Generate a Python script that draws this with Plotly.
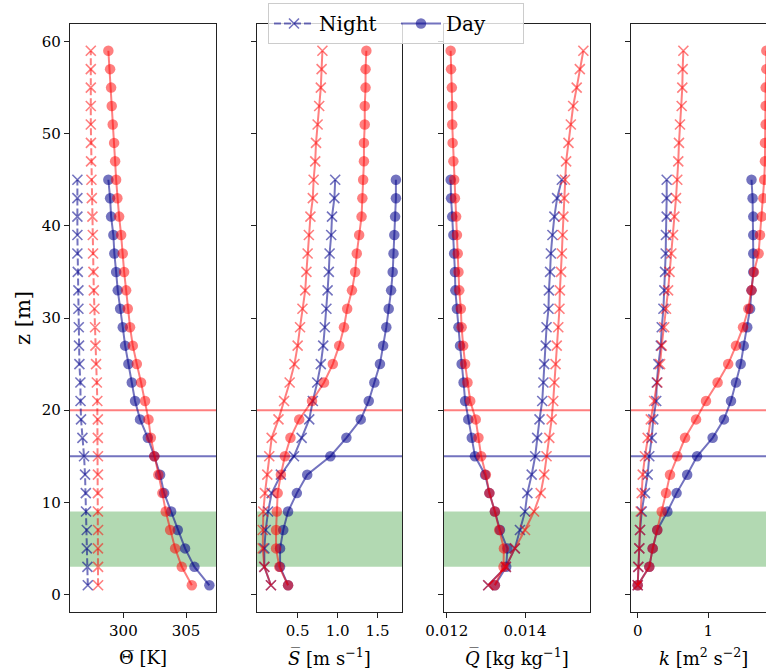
import plotly.graph_objects as go

# heights
z_red = [1, 3, 5, 7, 9, 11, 13, 15, 17, 19, 21, 23, 25, 27, 29, 31, 33, 35, 37, 39,
         41, 43, 45, 47, 49, 51, 53, 55, 57, 59]
z_blue = [1, 3, 5, 7, 9, 11, 13, 15, 17, 19, 21, 23, 25, 27, 29, 31, 33, 35, 37, 39,
          41, 43, 45]

# Theta [K]
theta_night_red = [297.98, 297.98, 297.97, 297.98, 297.97, 297.97, 297.97, 297.97, 297.96, 297.96,
                   297.92, 297.88, 297.82, 297.77, 297.74, 297.69, 297.64, 297.61, 297.58, 297.56,
                   297.53, 297.48, 297.45, 297.42, 297.41, 297.40, 297.40, 297.40, 297.40, 297.40]
theta_night_blue = [297.16, 297.13, 297.08, 297.08, 297.02, 297.00, 296.94, 296.86, 296.73, 296.62,
                    296.58, 296.57, 296.49, 296.46, 296.44, 296.41, 296.41, 296.36, 296.33, 296.33,
                    296.33, 296.33, 296.33]
theta_day_red = [305.46, 304.66, 304.13, 303.73, 303.38, 303.11, 302.79, 302.47, 302.19, 302.00,
                 301.73, 301.41, 301.07, 300.75, 300.53, 300.35, 300.22, 300.06, 299.95, 299.82,
                 299.66, 299.52, 299.42, 299.34, 299.26, 299.15, 299.07, 299.02, 298.94, 298.80]
theta_day_blue = [306.86, 305.67, 304.92, 304.34, 303.81, 303.25, 302.93, 302.47, 301.95, 301.33,
                  300.93, 300.67, 300.40, 300.14, 299.95, 299.74, 299.55, 299.42, 299.28, 299.20,
                  299.02, 298.94, 298.80]

# S [m/s]
s_night_red = [0.166, 0.083, 0.063, 0.063, 0.07, 0.091, 0.12, 0.145, 0.175, 0.26,
               0.33, 0.40, 0.46, 0.50, 0.53, 0.56, 0.595, 0.61, 0.625, 0.64,
               0.66, 0.69, 0.70, 0.72, 0.73, 0.75, 0.77, 0.79, 0.80, 0.81]
s_night_blue = [0.166, 0.083, 0.083, 0.10, 0.13, 0.175, 0.29, 0.454, 0.55, 0.645,
                0.69, 0.745, 0.79, 0.82, 0.84, 0.86, 0.875, 0.89, 0.90, 0.92,
                0.93, 0.96, 0.97]
s_day_red = [0.38, 0.27, 0.23, 0.23, 0.24, 0.25, 0.29, 0.34, 0.41, 0.52,
             0.68, 0.83, 0.94, 1.02, 1.08, 1.12, 1.18, 1.22, 1.24, 1.27,
             1.30, 1.31, 1.32, 1.33, 1.33, 1.34, 1.34, 1.35, 1.35, 1.36]
s_day_blue = [0.38, 0.28, 0.28, 0.32, 0.38, 0.49, 0.62, 0.91, 1.11, 1.29,
              1.39, 1.46, 1.53, 1.57, 1.61, 1.64, 1.67, 1.69, 1.70, 1.71,
              1.72, 1.73, 1.73]

# Q [kg/kg]
q_night_red = [0.01306, 0.01351, 0.01374, 0.01400, 0.01423, 0.01440, 0.01449, 0.01455, 0.01462, 0.01468,
               0.01472, 0.01475, 0.01478, 0.01481, 0.01485, 0.01488, 0.01489, 0.01492, 0.01494, 0.01496,
               0.01498, 0.01500, 0.01502, 0.01505, 0.01511, 0.01517, 0.01523, 0.01532, 0.01540, 0.01549]
q_night_blue = [0.01306, 0.01351, 0.01374, 0.01387, 0.01400, 0.01406, 0.01417, 0.01426, 0.01431, 0.01437,
                0.01444, 0.01447, 0.01449, 0.01453, 0.01455, 0.01460, 0.01461, 0.01464, 0.01466, 0.01470,
                0.01475, 0.01482, 0.01494]
q_day_red = [0.01323, 0.01345, 0.01346, 0.01334, 0.01323, 0.01309, 0.01300, 0.01288, 0.01281, 0.01274,
             0.01260, 0.01253, 0.01247, 0.01242, 0.01238, 0.01236, 0.01232, 0.01230, 0.01228, 0.01226,
             0.01224, 0.01221, 0.01219, 0.01217, 0.01215, 0.01214, 0.01214, 0.01213, 0.01211, 0.01210]
q_day_blue = [0.01323, 0.01352, 0.01355, 0.01336, 0.01323, 0.01309, 0.01298, 0.01272, 0.01264, 0.01255,
              0.01247, 0.01243, 0.01238, 0.01234, 0.01230, 0.01226, 0.01222, 0.01221, 0.01219, 0.01217,
              0.01214, 0.01211, 0.01210]

# k [m2/s2]
k_night_red = [0.0, 0.009, 0.023, 0.033, 0.042, 0.057, 0.071, 0.103, 0.141, 0.185,
               0.232, 0.279, 0.317, 0.34, 0.375, 0.40, 0.43, 0.45, 0.476, 0.50,
               0.519, 0.542, 0.560, 0.574, 0.584, 0.598, 0.622, 0.631, 0.636, 0.646]
k_night_blue = [0.0, 0.009, 0.023, 0.033, 0.057, 0.103, 0.141, 0.164, 0.198, 0.22,
                0.262, 0.27, 0.293, 0.327, 0.34, 0.364, 0.377, 0.387, 0.396, 0.40,
                0.41, 0.41, 0.41]
k_day_red = [0.0, 0.164, 0.212, 0.277, 0.34, 0.40, 0.457, 0.56, 0.67, 0.825,
             0.966, 1.13, 1.28, 1.39, 1.49, 1.565, 1.61, 1.645, 1.71, 1.73,
             1.755, 1.778, 1.79, 1.80, 1.80, 1.81, 1.81, 1.81, 1.82, 1.82]
k_day_blue = [0.0, 0.164, 0.212, 0.277, 0.42, 0.55, 0.70, 0.84, 1.06, 1.22,
              1.32, 1.39, 1.457, 1.50, 1.55, 1.59, 1.61, 1.635, 1.635, 1.635,
              1.635, 1.625, 1.61]

x_titles = ["\u0398\u0305 [K]",
            "<i>S\u0305</i> [m s<sup>\u22121</sup>]",
            "<i>Q\u0305</i> [kg kg<sup>\u22121</sup>]",
            "<i>k</i> [m<sup>2</sup> s<sup>\u22122</sup>]"]
x_tickvals = [[300, 305], [0.5, 1.0, 1.5], [0.012, 0.014], [0, 1]]
x_ticktext = [["300", "305"], ["0.5", "1.0", "1.5"], ["0.012", "0.014"], ["0", "1"]]
y_ticks = [0, 10, 20, 30, 40, 50, 60]
z_red_line = 20
z_blue_line = 15
band = [3, 9]

RED = "rgba(255,0,0,0.5)"
BLUE = "rgba(0,0,139,0.55)"
FONT = "DejaVu Serif"
TICK = 15

W, H = 766, 672
panels_px = [(70, 216), (256.7, 402.3), (444, 590), (630.7, 766)]
x_ranges = [[295.74, 307.39], [-0.0125, 1.81], [0.01193, 0.01566], [-0.099, 1.815]]
y_top, y_bot = 24, 612
y_dom = [1 - y_bot / H, 1 - y_top / H]

panels = [
    (theta_night_red, theta_night_blue, theta_day_red, theta_day_blue),
    (s_night_red, s_night_blue, s_day_red, s_day_blue),
    (q_night_red, q_night_blue, q_day_red, q_day_blue),
    (k_night_red, k_night_blue, k_day_red, k_day_blue),
]

fig = go.Figure()
layout = dict(
    width=W, height=H,
    margin=dict(l=0, r=0, t=0, b=0, autoexpand=False),
    paper_bgcolor="white", plot_bgcolor="white",
    font=dict(family=FONT, size=TICK, color="black"),
    showlegend=True,
    legend=dict(orientation="h", x=396 / W, xanchor="center", y=1 - 3 / H, yanchor="top",
                bgcolor="rgba(255,255,255,0.8)", bordercolor="#cccccc", borderwidth=1,
                font=dict(family=FONT, size=20), itemwidth=40,
                entrywidth=72, entrywidthmode="pixels",
                traceorder="normal"),
)
shapes = []
annotations = []


def cross(color):
    return dict(symbol="x-thin", size=10, color=color, line=dict(width=1.6, color=color))


def dot(color):
    return dict(symbol="circle", size=10.5, color=color, line=dict(width=0))


for i, (nr, nb, dr, db) in enumerate(panels):
    idx = "" if i == 0 else str(i + 1)
    xa, ya = "x" + idx, "y" + idx
    dash = "7px,3px" if i == 0 else "solid"
    # blue first, red drawn on top
    fig.add_trace(go.Scatter(x=nb, y=z_blue, xaxis=xa, yaxis=ya, mode="lines+markers",
                             line=dict(color=BLUE, width=2, dash=dash), marker=cross(BLUE),
                             name="Night", showlegend=(i == 0), legendrank=1, cliponaxis=True))
    fig.add_trace(go.Scatter(x=db, y=z_blue, xaxis=xa, yaxis=ya, mode="lines+markers",
                             line=dict(color=BLUE, width=2), marker=dot(BLUE),
                             name="Day", showlegend=(i == 0), legendrank=2, cliponaxis=True))
    fig.add_trace(go.Scatter(x=nr, y=z_red, xaxis=xa, yaxis=ya, mode="lines+markers",
                             line=dict(color=RED, width=2, dash=dash), marker=cross(RED),
                             showlegend=False, cliponaxis=True))
    fig.add_trace(go.Scatter(x=dr, y=z_red, xaxis=xa, yaxis=ya, mode="lines+markers",
                             line=dict(color=RED, width=2), marker=dot(RED),
                             showlegend=False, cliponaxis=True))

    x0, x1 = panels_px[i]
    last = (i == 3)
    layout["xaxis" + idx] = dict(
        domain=[x0 / W, x1 / W], anchor=ya, range=x_ranges[i], automargin=False,
        showgrid=False, zeroline=False, showline=True, linecolor="#222", linewidth=1.2,
        mirror=True, ticks="outside", ticklen=5, tickwidth=1.1, tickcolor="#222",
        tickvals=x_tickvals[i], ticktext=x_ticktext[i],
        tickfont=dict(family=FONT, size=TICK, color="black"),
    )
    layout["yaxis" + idx] = dict(
        domain=y_dom, anchor=xa, range=[-1.9, 61.9], automargin=False,
        showgrid=False, zeroline=False, showline=True, linecolor="#222", linewidth=1.2,
        mirror=(not last), ticks="outside", ticklen=5, tickwidth=1.1, tickcolor="#222",
        tickvals=y_ticks, showticklabels=(i == 0),
        tickfont=dict(family=FONT, size=TICK, color="black"),
    )
    if i > 0:
        layout["yaxis" + idx]["matches"] = "y"

    xd = xa + " domain"
    shapes.append(dict(type="rect", xref=xd, yref=ya, x0=0, x1=1, y0=band[0], y1=band[1],
                       fillcolor="rgba(0,128,0,0.3)", line=dict(width=0), layer="below"))
    shapes.append(dict(type="line", xref=xd, yref=ya, x0=0, x1=1, y0=z_red_line, y1=z_red_line,
                       line=dict(color="rgba(255,0,0,0.5)", width=2), layer="below"))
    shapes.append(dict(type="line", xref=xd, yref=ya, x0=0, x1=1, y0=z_blue_line, y1=z_blue_line,
                       line=dict(color="rgba(0,0,139,0.55)", width=2), layer="below"))

    cx = (x0 + x1) / 2 if not last else 703.5
    annotations.append(dict(text=x_titles[i], x=cx / W, y=1 - 657 / H, xref="paper", yref="paper",
                            showarrow=False, xanchor="center", yanchor="middle",
                            font=dict(family=FONT, size=18, color="black")))

annotations.append(dict(text="z [m]", x=23 / W, y=1 - 318 / H, xref="paper", yref="paper",
                        showarrow=False, textangle=-90, xanchor="center", yanchor="middle",
                        font=dict(family=FONT, size=21, color="black")))

layout["shapes"] = shapes
layout["annotations"] = annotations
fig.update_layout(**layout)
fig.write_html("out.html")
